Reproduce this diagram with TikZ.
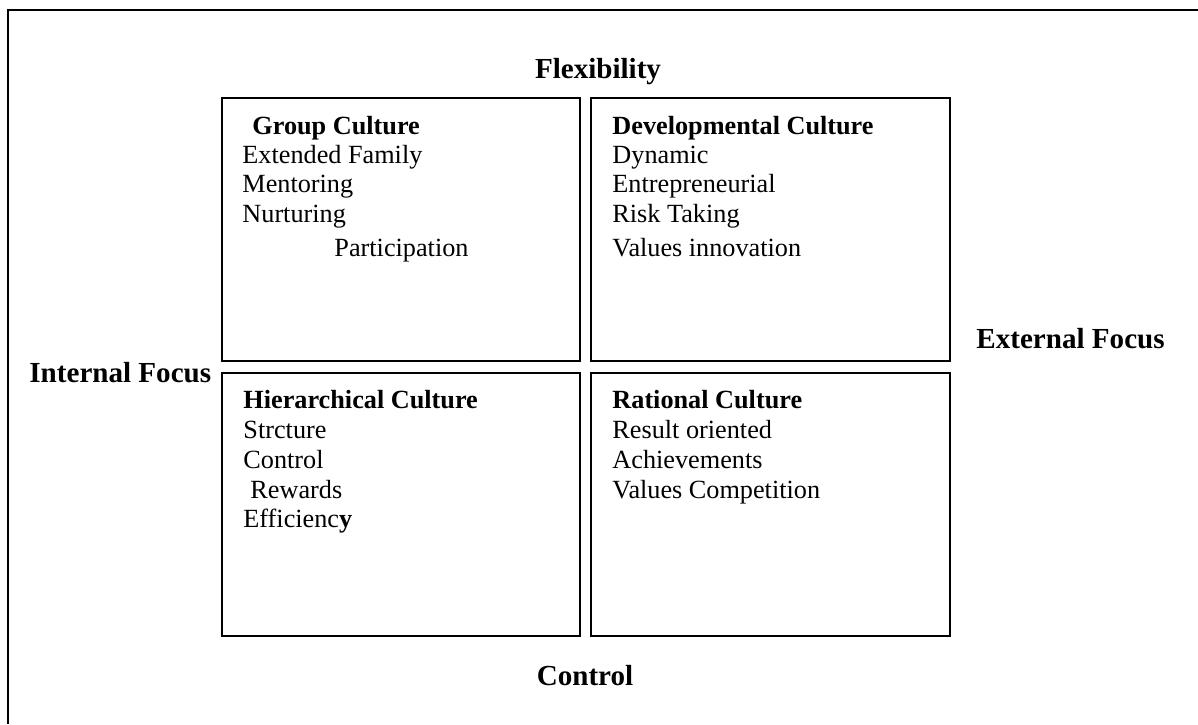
\documentclass[tikz,border=0pt]{standalone}
\usepackage{fontspec}
\setmainfont{Liberation Serif}
\usepackage{tikz}

\tikzset{
  cell/.style={draw, line width=1pt},
  item/.style={anchor=base west, inner sep=0pt, font=\fontsize{12}{14}\selectfont},
  head/.style={item, font=\fontsize{12}{14}\selectfont\bfseries},
  axis/.style={anchor=base, inner sep=0pt, font=\fontsize{13.3}{16}\selectfont\bfseries}
}

\begin{document}
\begin{tikzpicture}[x=0.4574pt, y=-0.4574pt]
  \useasboundingbox (0,0) rectangle (1198,724);
  % Frame
  \draw[line width=1.2pt] (8,724) -- (8,10) -- (1198,10);
  % Quadrants
  \draw[cell] (222,98) rectangle (580,361);
  \draw[cell] (591,98) rectangle (950,361);
  \draw[cell] (222,373) rectangle (580,636);
  \draw[cell] (591,373) rectangle (950,636);
  % Axis labels
  \node[axis] (flex) at (598,78) {Flexibility};
  \node[axis] (ctrl) at (585,685) {Control};
  \node[axis, anchor=base west] (intf) at (29,382) {Internal Focus};
  \node[axis, anchor=base west] (extf) at (976,348) {External Focus};
  % Group culture
  \node[head] (gc) at (252,134) {Group Culture};
  \foreach \txt [count=\i] in {Extended Family, Mentoring, Nurturing}
    \node[item] (gc\i) at (242,134+29.4*\i) {\txt};
  \node[item] (gc4) at (334,256) {Participation};
  % Developmental culture
  \node[head] (dc) at (612,134) {Developmental Culture};
  \foreach \txt [count=\i] in {Dynamic, Entrepreneurial, Risk Taking}
    \node[item] (dc\i) at (612,134+29.4*\i) {\txt};
  \node[item] (dc4) at (612,256) {Values innovation};
  % Hierarchical culture
  \node[head] (hc) at (243,408) {Hierarchical Culture};
  \node[item] (hc1) at (243,438) {Strcture};
  \node[item] (hc2) at (243,468) {Control};
  \node[item] (hc3) at (250,498) {Rewards};
  \node[item] (hc4) at (243,527) {Efficienc\textbf{y}};
  % Rational culture
  \node[head] (rc) at (612,408) {Rational Culture};
  \foreach \txt [count=\i] in {Result oriented, Achievements, Values Competition}
    \node[item] (rc\i) at (612,408+30*\i) {\txt};
\end{tikzpicture}
\end{document}
